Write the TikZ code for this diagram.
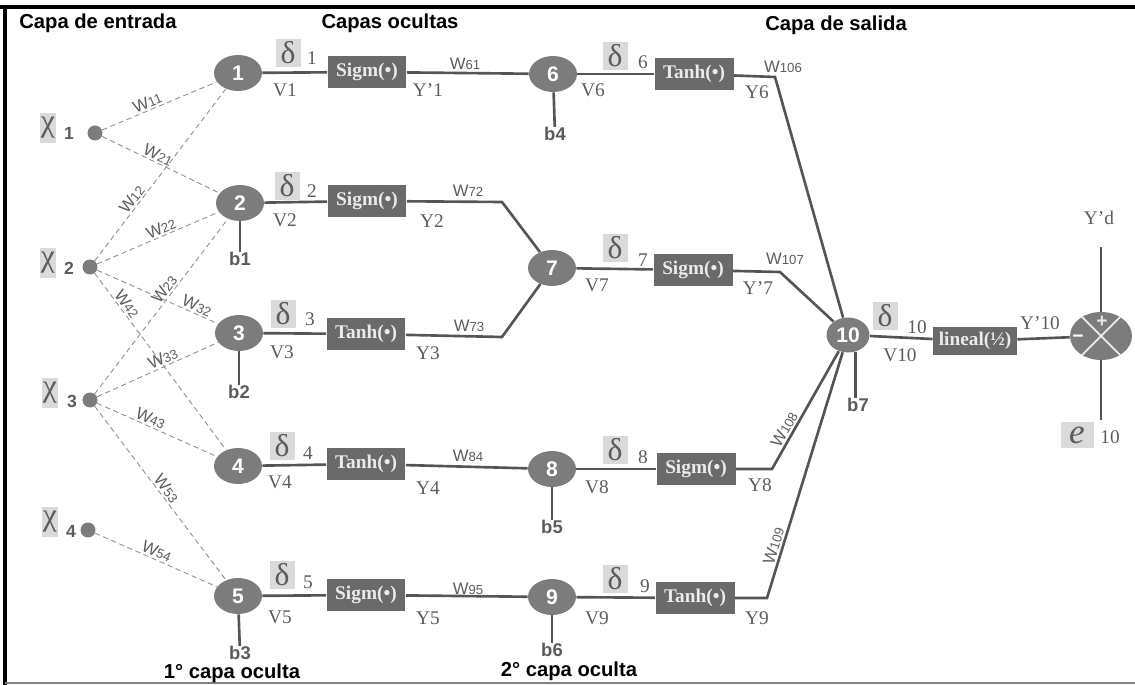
\documentclass[tikz,border=0pt]{standalone}
\usepackage{fontspec}
\setmainfont{Liberation Serif}
\setsansfont{Liberation Sans}
\usetikzlibrary{positioning,shapes.geometric}
\definecolor{neuronc}{HTML}{7C7C7C}
\definecolor{boxc}{HTML}{6A6A6A}
\definecolor{deltac}{HTML}{DADADA}
\definecolor{wire}{HTML}{555555}
\definecolor{weak}{HTML}{8E8E8E}
\definecolor{labc}{HTML}{5C5C5C}
\newcommand{\wsub}[1]{W{\fontsize{7.5}{8}\selectfont #1}}

\begin{document}
\begin{tikzpicture}[x=0.02cm,y=-0.02cm,
  neuron/.style={ellipse,fill=neuronc,minimum width=0.96cm,minimum height=0.72cm,inner sep=0pt,
    text=white,font=\sffamily\bfseries\fontsize{12}{12}\selectfont},
  fbox/.style={rectangle,fill=boxc,text=white!92!black,minimum width=1.58cm,minimum height=0.64cm,
    inner sep=1pt,font=\bfseries\fontsize{11}{11}\selectfont},
  dbox/.style={rectangle,fill=deltac,text=labc,minimum width=0.5cm,minimum height=0.56cm,
    inner sep=0pt,font=\fontsize{18}{18}\selectfont},
  gbox/.style={rectangle,fill=deltac,text=labc,minimum width=0.34cm,minimum height=0.6cm,
    inner sep=0pt,font=\fontsize{18}{18}\selectfont},
  idot/.style={circle,fill=neuronc,minimum size=0.3cm,inner sep=0pt},
  inum/.style={text=labc,font=\sffamily\bfseries\fontsize{10}{10}\selectfont,inner sep=0pt},
  num/.style={text=labc,font=\fontsize{11}{11}\selectfont,inner sep=0pt},
  wlab/.style={text=labc,font=\sffamily\fontsize{9.5}{10}\selectfont,inner sep=1pt},
  blab/.style={text=labc,font=\sffamily\bfseries\fontsize{10.5}{11}\selectfont,inner sep=0pt},
  head/.style={font=\sffamily\bfseries\fontsize{11.5}{12}\selectfont,inner sep=0pt},
  strong/.style={draw=wire,line width=1.5pt},
  inwire/.style={draw=weak,line width=0.5pt,densely dashed}]
\useasboundingbox (0,0) rectangle (1135,685);
% frame
\draw[line width=2pt] (0,7) -- (1135,7);
\draw[line width=2.5pt] (5,7) -- (5,685);
\draw[gray,line width=1pt] (5,683) -- (1135,683);

% headers
\node[head] (hin) at (98,23) {Capa de entrada};
\node[head] (hhid) at (390,23) {Capas ocultas};
\node[head] (hout) at (836,25) {Capa de salida};
\node[head] (cap1) at (232,673) {1° capa oculta};
\node[head] (cap2) at (569,671) {2° capa oculta};

% input layer
\node[gbox] (g1) at (48,128) {χ};
\node[inum] (i1) at (69,133) {1};
\node[idot] (x1) at (95,133) {};
\node[gbox] (g2) at (48,263) {χ};
\node[inum] (i2) at (69,268) {2};
\node[idot] (x2) at (90,267) {};
\node[gbox] (g3) at (50,393) {χ};
\node[inum] (i3) at (72,401) {3};
\node[idot] (x3) at (90,400) {};
\node[gbox] (g4) at (50,522) {χ};
\node[inum] (i4) at (71,531) {4};
\node[idot] (x4) at (88,530) {};

% first hidden layer
\node[neuron] (h1) at (238,73) {1};
\node[neuron] (h2) at (240,203) {2};
\node[neuron] (h3) at (239,333) {3};
\node[neuron] (h4) at (238,466) {4};
\node[neuron] (h5) at (238,596) {5};

\draw[inwire] (x1) -- node[wlab,sloped,above,pos=0.42] {\wsub{11}} (h1);
\draw[inwire] (x1) -- node[wlab,sloped,above,pos=0.45] {\wsub{21}} (h2);
\draw[inwire] (x2) -- node[wlab,sloped,above,pos=0.33] {\wsub{12}} (h1);
\draw[inwire] (x2) -- node[wlab,sloped,above,pos=0.55] {\wsub{22}} (h2);
\draw[inwire] (x2) -- node[wlab,sloped,above,pos=0.8] {\wsub{32}} (h3);
\draw[inwire] (x2) -- node[wlab,sloped,above,pos=0.2] {\wsub{42}} (h4);
\draw[inwire] (x3) -- node[wlab,sloped,above,pos=0.57] {\wsub{23}} (h2);
\draw[inwire] (x3) -- node[wlab,sloped,above,pos=0.57] {\wsub{33}} (h3);
\draw[inwire] (x3) -- node[wlab,sloped,above,pos=0.42] {\wsub{43}} (h4);
\draw[inwire] (x3) -- node[wlab,sloped,above,pos=0.5] {\wsub{53}} (h5);
\draw[inwire] (x4) -- node[wlab,sloped,above,pos=0.48] {\wsub{54}} (h5);

\node[fbox] (s1) at (367,72) {Sigm(•)};
\node[fbox] (s2) at (367,201) {Sigm(•)};
\node[fbox] (s3) at (366,334) {Tanh(•)};
\node[fbox] (s4) at (366,464) {Tanh(•)};
\node[fbox] (s5) at (366,595) {Sigm(•)};
\foreach \k in {1,...,5} \draw[strong] (h\k) -- (s\k);

\node[dbox] (d1) at (288,53) {δ};
\node[num] (j1) at (312,58) {1};
\node[dbox] (d2) at (287,186) {δ};
\node[num] (j2) at (312,191) {2};
\node[dbox] (d3) at (283,314) {δ};
\node[num] (j3) at (310,319) {3};
\node[dbox] (d4) at (282,446) {δ};
\node[num] (j4) at (308,453) {4};
\node[dbox] (d5) at (282,575) {δ};
\node[num] (j5) at (308,582) {5};
\node[num] (v1) at (285,90) {V1};
\node[num] (v2) at (285,220) {V2};
\node[num] (v3) at (282,352) {V3};
\node[num] (v4) at (280,482) {V4};
\node[num] (v5) at (280,617) {V5};

\node[blab] (b1) at (240,259) {b1};
\node[blab] (b2) at (239,392) {b2};
\node[blab] (b3) at (240,653) {b3};
\draw[strong] (h2) -- (b1);
\draw[strong] (h3) -- (b2);
\draw[strong] (h5) -- (b3);

% second hidden layer
\node[neuron] (n6) at (553,74) {6};
\node[neuron] (n7) at (552,268) {7};
\node[neuron] (n8) at (552,469) {8};
\node[neuron] (n9) at (552,597) {9};
\coordinate (k72) at (502,202);
\coordinate (k73) at (502,337);
\draw[strong] (s1) -- (n6);
\draw[strong] (s2) -- (k72) -- (n7);
\draw[strong] (s3) -- (k73) -- (n7);
\draw[strong] (s4) -- (n8);
\draw[strong] (s5) -- (n9);
\node[wlab] (w61) at (465,64) {\wsub{61}};
\node[wlab] (w72) at (468,191) {\wsub{72}};
\node[wlab] (w73) at (469,326) {\wsub{73}};
\node[wlab] (w84) at (468,456) {\wsub{84}};
\node[wlab] (w95) at (468,589) {\wsub{95}};
\node[num] (y1) at (428,90) {Y'1};
\node[num] (y2) at (432,221) {Y2};
\node[num] (y3) at (428,353) {Y3};
\node[num] (y4) at (428,488) {Y4};
\node[num] (y5) at (428,618) {Y5};

\node[blab] (b4) at (555,134) {b4};
\node[blab] (b5) at (552,527) {b5};
\node[blab] (b6) at (552,650) {b6};
\draw[strong] (n6) -- (b4);
\draw[strong] (n8) -- (b5);
\draw[strong] (n9) -- (b6);

\node[fbox] (t6) at (694,74) {Tanh(•)};
\node[fbox] (t7) at (693,270) {Sigm(•)};
\node[fbox] (t8) at (696,469) {Sigm(•)};
\node[fbox] (t9) at (695,598) {Tanh(•)};
\foreach \k in {6,...,9} \draw[strong] (n\k) -- (t\k);

\node[dbox] (d6) at (615,56) {δ};
\node[num] (j6) at (643,62) {6};
\node[dbox] (d7) at (615,248) {δ};
\node[num] (j7) at (643,260) {7};
\node[dbox] (d8) at (615,450) {δ};
\node[num] (j8) at (643,457) {8};
\node[dbox] (d9) at (615,579) {δ};
\node[num] (j9) at (645,586) {9};
\node[num] (v6) at (593,90) {V6};
\node[num] (v7) at (597,285) {V7};
\node[num] (v8) at (597,487) {V8};
\node[num] (v9) at (597,618) {V9};

% output layer
\node[neuron,minimum width=0.86cm,minimum height=0.7cm] (n10) at (848,335) {10};
\coordinate (k106) at (775,77);
\coordinate (k107) at (780,272);
\coordinate (k108) at (772,469);
\coordinate (k109) at (767,598);
\draw[strong] (t6) -- (k106) -- (n10);
\draw[strong] (t7) -- (k107) -- (n10);
\draw[strong] (t8) -- (k108) -- node[wlab,sloped,above,pos=0.3] {\wsub{108}} (n10);
\draw[strong] (t9) -- (k109) -- node[wlab,sloped,above,pos=0.2] {\wsub{109}} (n10);
\node[wlab] (w106) at (783,67) {\wsub{106}};
\node[wlab] (w107) at (785,259) {\wsub{107}};
\node[num] (y6) at (757,92) {Y6};
\node[num] (y7) at (758,288) {Y'7};
\node[num] (y8) at (760,485) {Y8};
\node[num] (y9) at (757,618) {Y9};

\node[blab] (b7) at (858,405) {b7};
\draw[strong] (n10.-65) -- (n10.-65 |- b7.north);

\node[dbox] (d10) at (885,316) {δ};
\node[num] (j10) at (917,327) {10};
\node[num] (v10) at (900,355) {V10};
\node[fbox,minimum width=1.68cm,minimum height=0.56cm] (lin) at (975,341) {lineal(½)};
\node[ellipse,fill=neuronc,minimum width=1.24cm,minimum height=0.96cm,inner sep=0pt] (sum) at (1101,336) {};
\draw[white!85!gray,line width=1pt] (sum.45) -- (sum.225);
\draw[white!85!gray,line width=1pt] (sum.135) -- (sum.315);
\node[text=white!80!gray,font=\sffamily\bfseries\fontsize{11}{11}\selectfont] (plus) at (1102,322) {+};
\node[text=white,font=\sffamily\bfseries\fontsize{11}{11}\selectfont] (minus) at (1078,339) {−};
\draw[strong] (n10) -- (lin);
\draw[strong] (lin) -- (sum);
\node[num] (y10) at (1040,323) {Y'10};

\node[num] (yd) at (1099,218) {Y'd};
\coordinate (ydend) at (1101,247);
\draw[strong] (ydend) -- (sum);
\node[gbox,minimum width=0.66cm,minimum height=0.52cm,font=\itshape\fontsize{20}{20}\selectfont] (e10) at (1077,435) {e};
\node[num] (je) at (1110,437) {10};
\coordinate (eend) at (1101,420);
\draw[strong] (sum) -- (eend);
\end{tikzpicture}
\end{document}
